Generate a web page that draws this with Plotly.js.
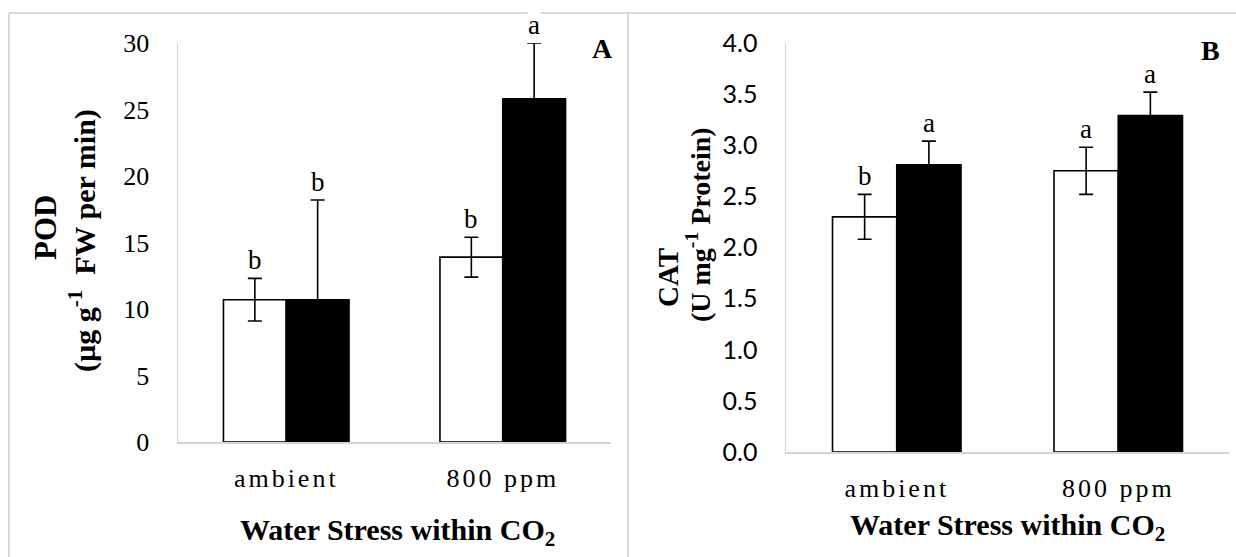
<!DOCTYPE html>
<html>
<head>
<meta charset="utf-8">
<script src="https://cdn.plot.ly/plotly-3.0.1.min.js"></script>
<style>
  html, body { margin: 0; padding: 0; background: #fff; }
  #chart { width: 1236px; height: 557px; }
  .xtick text, .x2tick text { letter-spacing: 3px; }
</style>
</head>
<body>
<div id="chart"></div>
<script>
// ---- data ----
const categories = ['ambient', '800 ppm'];

const podWell = [10.7, 13.9];
const podWellErr = [1.6, 1.5];
const podStress = [10.7, 25.8];
const podStressErr = [7.5, 4.2];
const podWellLetters = ['b', 'b'];
const podStressLetters = ['b', 'a'];

const catWell = [2.30, 2.75];
const catWellErr = [0.22, 0.23];
const catStress = [2.81, 3.29];
const catStressErr = [0.23, 0.23];
const catWellLetters = ['b', 'a'];
const catStressLetters = ['a', 'a'];

const podTicks = [0, 5, 10, 15, 20, 25, 30];
const catTicks = [0, 0.5, 1, 1.5, 2, 2.5, 3, 3.5, 4];

// ---- styles ----
const SERIF = 'Liberation Serif, Times New Roman, serif';
const SANS = 'Lato, Carlito, Calibri, sans-serif';
const BARGAP = 0.42;
const AXCOL = '#d4d4d4';
const W = 1236, H = 557;
const px = v => v / W;
const py = v => 1 - v / H;

function barTrace(x, y, err, xa, ya, fill) {
  return {
    type: 'bar', x: x, y: y, xaxis: xa, yaxis: ya,
    marker: { color: fill, line: { color: '#000', width: 1.6 } },
    error_y: { type: 'data', array: err, visible: true, color: '#000', thickness: 1.6, width: 7 },
    cliponaxis: false, showlegend: false, hoverinfo: 'skip'
  };
}

const traces = [
  barTrace(categories, podWell, podWellErr, 'x', 'y', '#ffffff'),
  barTrace(categories, podStress, podStressErr, 'x', 'y', '#000000'),
  barTrace(categories, catWell, catWellErr, 'x2', 'y2', '#ffffff'),
  barTrace(categories, catStress, catStressErr, 'x2', 'y2', '#000000')
];

// letters above error bars
const half = (1 - BARGAP) / 4;
function letterAnns(vals, errs, letters, shift, xref, yref) {
  return vals.map((v, i) => ({
    x: i + shift, y: v + errs[i], xref: xref, yref: yref,
    text: letters[i], showarrow: false, xanchor: 'center', yanchor: 'bottom', yshift: 2,
    bgcolor: '#ffffff', borderpad: 0,
    font: { family: SERIF, size: 27, color: '#000' }
  }));
}

function paperText(x, y, text, size, angle) {
  return {
    xref: 'paper', yref: 'paper', x: px(x), y: py(y), text: text, showarrow: false,
    xanchor: 'center', yanchor: 'middle', textangle: angle || 0,
    font: { family: SERIF, size: size, color: '#000' }
  };
}

const annotations = [].concat(
  letterAnns(podWell, podWellErr, podWellLetters, -half, 'x', 'y'),
  letterAnns(podStress, podStressErr, podStressLetters, half, 'x', 'y'),
  letterAnns(catWell, catWellErr, catWellLetters, -half, 'x2', 'y2'),
  letterAnns(catStress, catStressErr, catStressLetters, half, 'x2', 'y2'),
  [
    // panel labels
    paperText(602, 48, '<b>A</b>', 28),
    paperText(1210, 50, '<b>B</b>', 28),
    // y titles
    paperText(45, 228, '<b>POD</b>', 31, -90),
    paperText(82, 241, '<b>(µg g<sup>-1</sup>\u00a0 FW per min)</b>', 30, -90),
    paperText(668, 278, '<b>CAT</b>', 29, -90),
    paperText(698, 225, '<b>(U mg<sup>-1</sup> Protein)</b>', 28, -90),
    // x titles
    paperText(397, 532, '<b>Water Stress within CO<sub>2</sub></b>', 30),
    paperText(1007, 527, '<b>Water Stress within CO<sub>2</sub></b>', 30)
  ]
);

const borderLine = { color: '#d9d9d9', width: 2 };
const shapes = [
  { type: 'line', xref: 'paper', yref: 'paper', x0: px(9), x1: px(1236), y0: py(13), y1: py(13), line: borderLine, layer: 'below' },
  { type: 'line', xref: 'paper', yref: 'paper', x0: px(9), x1: px(9), y0: py(13), y1: 0, line: borderLine, layer: 'below' },
  { type: 'line', xref: 'paper', yref: 'paper', x0: px(628), x1: px(628), y0: py(13), y1: 0, line: borderLine, layer: 'below' }
];

const xBase = {
  type: 'category', showline: true, linecolor: AXCOL, linewidth: 1.5,
  showgrid: false, zeroline: false, ticks: '', ticklabelstandoff: 12,
  tickfont: { family: SERIF, size: 26, color: '#000' }, fixedrange: true
};
const yBase = {
  showline: true, linecolor: AXCOL, linewidth: 1.5, showgrid: false, zeroline: false,
  ticks: '', ticklabelstandoff: 22, fixedrange: true
};

const layout = {
  width: W, height: H,
  margin: { l: 0, r: 0, t: 0, b: 0 },
  paper_bgcolor: '#ffffff', plot_bgcolor: '#ffffff',
  barmode: 'group', bargap: BARGAP, bargroupgap: 0,
  showlegend: false,
  xaxis: Object.assign({}, xBase, { domain: [px(178), px(611)], anchor: 'y' }),
  yaxis: Object.assign({}, yBase, {
    domain: [py(442), py(43)], anchor: 'x', range: [0, 30],
    tickvals: podTicks, ticktext: podTicks.map(String),
    tickfont: { family: SERIF, size: 26, color: '#000' }
  }),
  xaxis2: Object.assign({}, xBase, { domain: [px(786), px(1229)], anchor: 'y2' }),
  yaxis2: Object.assign({}, yBase, {
    domain: [py(452), py(43)], anchor: 'x2', range: [0, 4],
    tickvals: catTicks, ticktext: catTicks.map(v => v.toFixed(1)),
    tickfont: { family: SANS, size: 25, color: '#000' }
  }),
  annotations: annotations,
  shapes: shapes
};

Plotly.newPlot('chart', traces, layout, { displayModeBar: false, staticPlot: true });
</script>
</body>
</html>
